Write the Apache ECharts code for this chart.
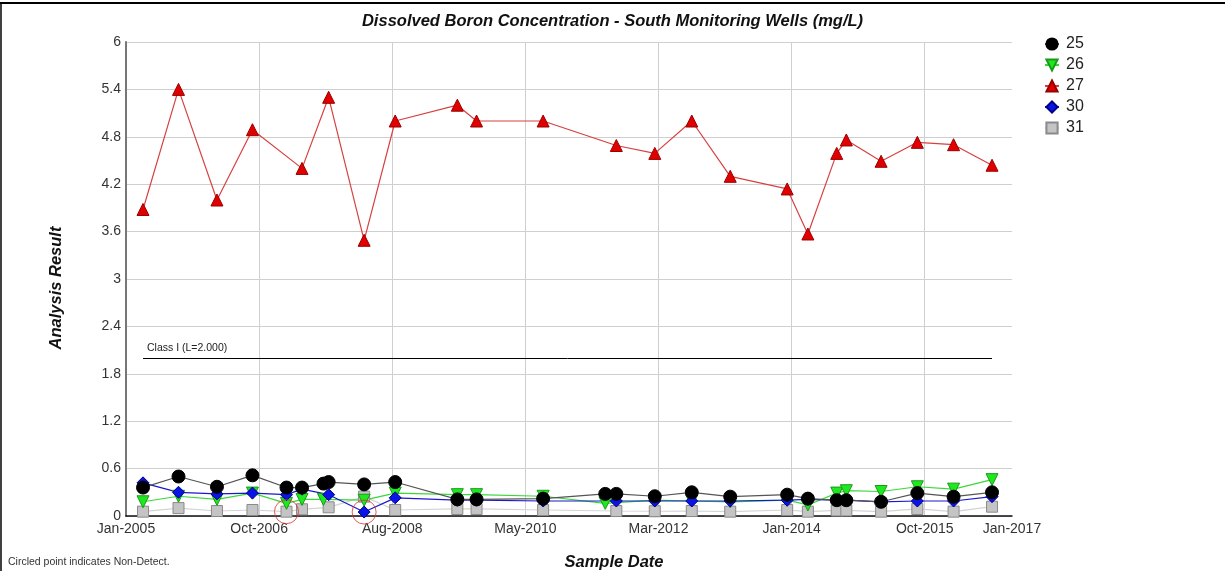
<!DOCTYPE html>
<html>
<head>
<meta charset="utf-8">
<script src="https://cdn.jsdelivr.net/npm/echarts@6/dist/echarts.min.js"></script>
<style>html,body{margin:0;padding:0;background:#fff;}#c{width:1225px;height:571px;}</style>
</head>
<body>
<div id="c"></div>
<script>
// Sample dates as decimal years
var well25 = [[2005.23,0.36],[2005.71,0.50],[2006.23,0.37],[2006.71,0.515],[2007.17,0.36],[2007.38,0.36],[2007.67,0.41],[2007.74,0.43],[2008.22,0.40],[2008.64,0.43],[2009.48,0.21],[2009.74,0.21],[2010.64,0.22],[2011.48,0.28],[2011.63,0.28],[2012.15,0.25],[2012.65,0.30],[2013.17,0.245],[2013.94,0.27],[2014.22,0.22],[2014.61,0.20],[2014.74,0.20],[2015.21,0.18],[2015.70,0.29],[2016.19,0.245],[2016.71,0.30]];
var well26 = [[2005.23,0.18],[2005.71,0.25],[2006.23,0.21],[2006.71,0.29],[2007.17,0.16],[2007.38,0.21],[2007.67,0.21],[2008.22,0.20],[2008.64,0.29],[2009.48,0.27],[2009.74,0.27],[2010.64,0.25],[2011.48,0.16],[2012.15,0.20],[2012.65,0.19],[2013.17,0.18],[2013.94,0.20],[2014.22,0.14],[2014.61,0.29],[2014.74,0.32],[2015.21,0.31],[2015.70,0.37],[2016.19,0.34],[2016.71,0.46]];
var well27 = [[2005.23,3.88],[2005.71,5.40],[2006.23,4.0],[2006.71,4.89],[2007.38,4.4],[2007.74,5.3],[2008.22,3.49],[2008.64,5.0],[2009.48,5.2],[2009.74,5.0],[2010.64,5.0],[2011.63,4.69],[2012.15,4.59],[2012.65,5.0],[2013.17,4.30],[2013.94,4.14],[2014.22,3.57],[2014.61,4.59],[2014.74,4.76],[2015.21,4.49],[2015.70,4.73],[2016.19,4.70],[2016.71,4.44]];
var well30 = [[2005.23,0.42],[2005.71,0.30],[2006.23,0.28],[2006.71,0.29],[2007.17,0.27],[2007.38,0.34],[2007.74,0.27],[2008.22,0.05],[2008.64,0.23],[2009.48,0.20],[2009.74,0.20],[2010.64,0.19],[2011.63,0.19],[2012.15,0.19],[2012.65,0.19],[2013.17,0.19],[2013.94,0.20],[2014.22,0.21],[2014.61,0.20],[2014.74,0.20],[2015.21,0.18],[2015.70,0.19],[2016.19,0.19],[2016.71,0.245]];
var well31 = [[2005.23,0.055],[2005.71,0.10],[2006.23,0.063],[2006.71,0.076],[2007.17,0.055],[2007.38,0.085],[2007.74,0.11],[2008.22,0.245],[2008.64,0.076],[2009.48,0.089],[2009.74,0.089],[2010.64,0.076],[2011.63,0.063],[2012.15,0.06],[2012.65,0.063],[2013.17,0.055],[2013.94,0.076],[2014.22,0.055],[2014.61,0.07],[2014.74,0.07],[2015.21,0.055],[2015.70,0.089],[2016.19,0.055],[2016.71,0.118]];
var nonDetects = [[2007.17,0.055],[2008.22,0.05]];
var classLimit = 2.0;
var classStart = 2005.23, classEnd = 2016.71;
var xLabelValues = [2005, 2006.8, 2008.6, 2010.4, 2012.2, 2014.0, 2015.8, 2016.98];
var xLabelTexts = ['Jan-2005','Oct-2006','Aug-2008','May-2010','Mar-2012','Jan-2014','Oct-2015','Jan-2017'];
var xGridValues = [2006.8, 2008.6, 2010.4, 2012.2, 2014.0, 2015.8];

var downTri = 'path://M0,0 L10,0 L5,9 Z';
var chart = echarts.init(document.getElementById('c'));
var font = 'Liberation Sans, Arial, sans-serif';
function ser(name, data, sym, size, fill, border, lineColor) {
  return {
    name: name, type: 'line', data: data, symbol: sym, symbolSize: size,
    showAllSymbol: true, animation: false,
    itemStyle: {color: fill, borderColor: border, borderWidth: 1, opacity: 1},
    lineStyle: {color: lineColor, width: 1.2}, z: 3
  };
}
chart.setOption({
  animation: false,
  textStyle: {fontFamily: font},
  title: {
    text: 'Dissolved Boron Concentration - South Monitoring Wells (mg/L)',
    left: 'center', top: 8,
    textStyle: {fontSize: 16.5, fontWeight: 'bold', fontStyle: 'italic', color: '#111', fontFamily: font}
  },
  legend: {
    orient: 'vertical', left: 1039, top: 31, itemGap: 5, itemWidth: 14, itemHeight: 14,
    textStyle: {fontSize: 16, color: '#222', fontFamily: font, padding: [0, 0, 0, 2]},
    data: ['25','26','27','30','31']
  },
  grid: {left: 126, right: 213, top: 42, bottom: 55},
  xAxis: {
    type: 'value', min: 2005, max: 2016.98,
    axisLine: {lineStyle: {color: '#111', width: 1.5}},
    axisTick: {show: false, customValues: xGridValues},
    splitLine: {show: true, lineStyle: {color: '#cfcfcf', width: 1}},
    axisLabel: {customValues: xLabelValues, fontSize: 14, color: '#333', margin: 6,
      formatter: function (v) { var i = xLabelValues.indexOf(v); return i >= 0 ? xLabelTexts[i] : ''; }}
  },
  yAxis: {
    type: 'value', min: 0, max: 6, interval: 0.6,
    axisLine: {show: true, lineStyle: {color: '#777', width: 2}},
    axisTick: {show: false},
    splitLine: {lineStyle: {color: '#cfcfcf', width: 1}},
    axisLabel: {fontSize: 14, color: '#333', margin: 5,
      formatter: function (v) { return String(Math.round(v * 10) / 10); }}
  },
  series: [
    {
      name: 'Class I', type: 'line', data: [], silent: true,
      markLine: {
        silent: true, symbol: 'none',
        lineStyle: {color: '#000', width: 1, type: 'solid'},
        label: {show: true, position: 'insideStartTop', formatter: 'Class I (L=2.000)', fontSize: 10.5, color: '#222', distance: 4},
        data: [[{coord: [classStart, classLimit]}, {coord: [classEnd, classLimit]}]]
      }
    },
    ser('31', well31, 'rect', 11, '#c4c4c4', '#8a8a8a', '#d4d4d4'),
    ser('26', well26, downTri, 12, '#1ee81e', '#1a991a', '#3ad83a'),
    ser('30', well30, 'diamond', 12, '#0a14e6', '#000088', '#1a1acc'),
    ser('25', well25, 'circle', 13, '#000', '#000', '#555'),
    ser('27', well27, 'triangle', 12, '#e00000', '#990000', '#d84040'),
    {
      name: 'ND', type: 'scatter', data: nonDetects, symbol: 'circle', symbolSize: 24, silent: true,
      itemStyle: {color: 'rgba(0,0,0,0)', borderColor: '#e03030', borderWidth: 1}, z: 5
    }
  ],
  graphic: [
    {type: 'line', shape: {x1: 0, y1: 3, x2: 1225, y2: 3}, style: {stroke: '#000', lineWidth: 2}},
    {type: 'line', shape: {x1: 1, y1: 3, x2: 1, y2: 571}, style: {stroke: '#000', lineWidth: 1.5}},
    {type: 'text', x: 56, y: 288, rotation: Math.PI / 2,
      style: {text: 'Analysis Result', font: 'italic bold 16.5px ' + font, fill: '#111', align: 'center', verticalAlign: 'middle'}},
    {type: 'text', x: 614, y: 562,
      style: {text: 'Sample Date', font: 'italic bold 16.5px ' + font, fill: '#111', align: 'center', verticalAlign: 'middle'}},
    {type: 'text', left: 8, top: 557, style: {text: 'Circled point indicates Non-Detect.', font: '10.5px ' + font, fill: '#333'}}
  ]
});
</script>
</body>
</html>
